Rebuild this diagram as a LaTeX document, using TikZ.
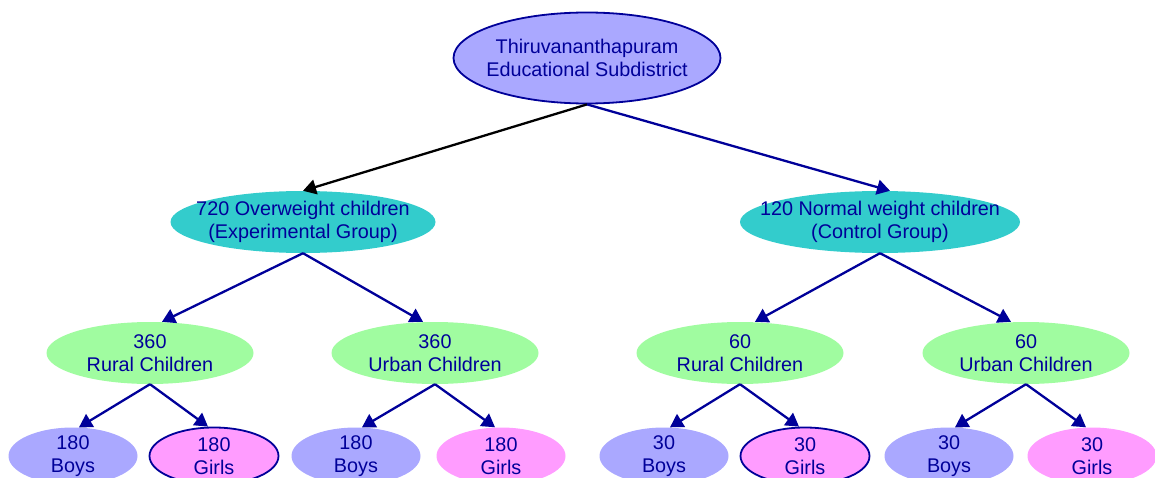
\documentclass[tikz,border=0pt]{standalone}
\usepackage{fontspec}
\setmainfont{Liberation Sans}
\usepackage{xcolor}
\usetikzlibrary{shapes.geometric, arrows.meta}

\definecolor{navyblue}{RGB}{0,0,153}
\definecolor{lavender}{RGB}{170,168,255}
\definecolor{turq}{RGB}{51,204,204}
\definecolor{palegreen}{RGB}{160,252,160}
\definecolor{pinkish}{RGB}{255,156,255}

\begin{document}
\begin{tikzpicture}[
    x=1pt, y=-1pt,
    every node/.style={
      ellipse, inner xsep=-60pt, inner ysep=-20pt, align=center,
      text=navyblue, font=\fontsize{19.8}{22.5}\selectfont
    },
    rootbox/.style={
      fill=lavender, draw=navyblue, line width=1.8pt,
      minimum width=267pt, minimum height=91pt
    },
    groupbox/.style={
      fill=turq, minimum width=265pt, minimum height=62pt
    },
    areabox/.style={
      fill=palegreen, minimum width=207pt, minimum height=62pt
    },
    boysbox/.style={
      fill=lavender, minimum width=129pt, minimum height=57pt
    },
    girlsbox/.style={
      fill=pinkish, minimum width=129pt, minimum height=57pt
    },
    rim/.style={draw=navyblue, line width=1.8pt},
    arr/.style={-{Triangle[length=13pt,width=15pt]}, line width=2.3pt, color=navyblue}
  ]

    \useasboundingbox (0,0) rectangle (1155,478);

    \node[rootbox] (root) at (587,58)
      {Thiruvananthapuram\\Educational Subdistrict};

    \node[groupbox] (exp) at (303,222)
      {720 Overweight children\\(Experimental Group)};
    \node[groupbox, minimum width=280pt] (ctl) at (880,222)
      {120 Normal weight children\\(Control Group)};

    \node[areabox] (exprural) at (150,353) {360\\Rural Children};
    \node[areabox] (expurban) at (435,353) {360\\Urban Children};
    \node[areabox] (ctlrural) at (740,353) {60\\Rural Children};
    \node[areabox] (ctlurban) at (1026,353) {60\\Urban Children};

    \node[boysbox]       (boysa)  at (73,456)   {180\\Boys};
    \node[girlsbox, rim] (girlsa) at (214,456)  {180\\Girls};
    \node[boysbox]       (boysb)  at (356,456)  {180\\Boys};
    \node[girlsbox]      (girlsb) at (501,456)  {180\\Girls};
    \node[boysbox]       (boysc)  at (664,456)  {30\\Boys};
    \node[girlsbox, rim] (girlsc) at (805,456)  {30\\Girls};
    \node[boysbox]       (boysd)  at (949,456)  {30\\Boys};
    \node[girlsbox]      (girlsd) at (1092,456) {30\\Girls};

    \draw[arr, color=black] (root.south) -- (exp.north);
    \draw[arr] (root.south) -- ([xshift=10pt]ctl.north);

    \draw[arr] (exp.south) -- ([xshift=12pt]exprural.north);
    \draw[arr] (exp.south) -- ([xshift=-12pt]expurban.north);
    \draw[arr] (ctl.south) -- ([xshift=15pt]ctlrural.north);
    \draw[arr] (ctl.south) -- ([xshift=-15pt]ctlurban.north);

    \draw[arr] (exprural.south) -- ([xshift=6pt]boysa.north);
    \draw[arr] (exprural.south) -- ([xshift=-6pt]girlsa.north);
    \draw[arr] (expurban.south) -- ([xshift=6pt]boysb.north);
    \draw[arr] (expurban.south) -- ([xshift=-6pt]girlsb.north);
    \draw[arr] (ctlrural.south) -- ([xshift=6pt]boysc.north);
    \draw[arr] (ctlrural.south) -- ([xshift=-6pt]girlsc.north);
    \draw[arr] (ctlurban.south) -- ([xshift=6pt]boysd.north);
    \draw[arr] (ctlurban.south) -- ([xshift=-6pt]girlsd.north);
  \end{tikzpicture}
\end{document}
